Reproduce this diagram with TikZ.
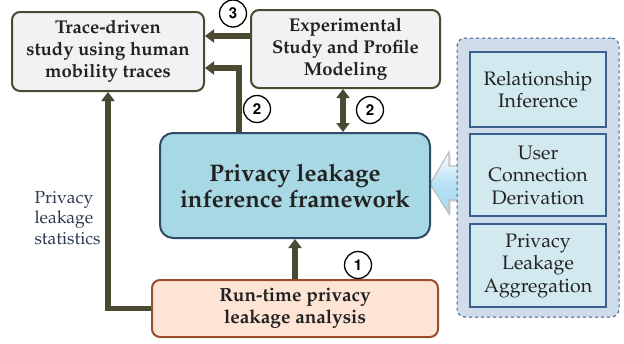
\documentclass[tikz,border=0pt]{standalone}
\usepackage[T1]{fontenc}
\usepackage{mathpazo}
\usepackage{tikz}
\usetikzlibrary{arrows.meta,shadows}
\definecolor{olivedark}{HTML}{4A4A32}
\definecolor{boxgray}{HTML}{F1F2F4}
\definecolor{frameblue}{HTML}{A8D8E3}
\definecolor{framedraw}{HTML}{2E4A68}
\definecolor{runfill}{HTML}{FDE4D4}
\definecolor{rundraw}{HTML}{9A4E2E}
\definecolor{panelfill}{HTML}{CFDCE9}
\definecolor{paneldraw}{HTML}{3E5A82}
\definecolor{subfill}{HTML}{D2E9F0}
\definecolor{subdraw}{HTML}{3B5F8E}
\definecolor{txtdark}{HTML}{222222}
\definecolor{lbltxt}{HTML}{2E3A52}
\definecolor{arrowblue}{HTML}{A6DAF2}
\tikzset{
  stagebox/.style={draw=olivedark, line width=2pt, fill=boxgray, rounded corners=8pt,
    align=center, text=txtdark, font=\fontsize{18.5}{22}\selectfont\bfseries},
  conn/.style={draw=olivedark, line width=5.5pt, -{Triangle[length=9pt,width=13pt]}},
  subbox/.style={draw=subdraw, line width=1.6pt, fill=subfill, align=center,
    minimum width=136pt, text=txtdark, font=\fontsize{19.5}{22.5}\selectfont},
  stepnum/.style={circle, draw=black, line width=1.3pt, inner sep=0pt, minimum width=27pt,
    minimum height=27pt, font=\fontfamily{phv}\bfseries\fontsize{15}{15}\selectfont}
}
\begin{document}
\begin{tikzpicture}[x=1pt, y=-1pt]
  \useasboundingbox (0,0) rectangle (624,343);
  % hollow arrow from the side panel
  \shade [top color=white, bottom color=arrowblue, middle color=arrowblue!80, draw=gray!50, line width=1.2pt,
    drop shadow={opacity=0.3, shadow xshift=1.5pt, shadow yshift=-1.5pt}]
    (430,184) -- (449,152) -- (449,166) -- (460,166) -- (460,200) -- (449,200) -- (449,214) -- cycle;
  % side panel
  \node [draw=paneldraw, dashed, line width=1pt, fill=panelfill, rounded corners=8pt,
    minimum width=162pt, minimum height=279pt] (panel) at (538,177.5) {};
  \node [subbox, minimum height=75pt] (relinf) at (538,89.5) {Relationship\\Inference};
  \node [subbox, minimum height=82pt] (conder) at (538,175) {User\\Connection\\Derivation};
  \node [subbox, minimum height=83pt] (leakagg) at (538,265.5) {Privacy\\Leakage\\Aggregation};
  % main boxes
  \node [stagebox, minimum width=192pt, minimum height=79pt] (trace) at (108,51.5)
    {Trace-driven\\study using human\\mobility traces};
  \node [stagebox, minimum width=189pt, minimum height=78pt] (exper) at (345.5,49)
    {Experimental\\Study and Profile\\Modeling};
  \node [stagebox, draw=framedraw, fill=frameblue, rounded corners=13pt, minimum width=270pt,
    minimum height=105pt, font=\fontsize{24}{26}\selectfont\bfseries] (frame) at (295,185.5)
    {Privacy leakage\\inference framework};
  \node [stagebox, draw=rundraw, fill=runfill, minimum width=286pt, minimum height=57pt,
    font=\fontsize{19}{22}\selectfont\bfseries] (runtime) at (295,308.5)
    {Run-time privacy\\leakage analysis};
  % connectors
  \draw [conn] (runtime.west) -| (trace.south);
  \draw [conn] (runtime.north) -- (frame.south);
  \draw [conn] ([xshift=-56pt]frame.north) |- ([yshift=-16.5pt]trace.east);
  \draw [conn] ([yshift=13pt]exper.west) -- ([yshift=15.5pt]trace.east);
  \draw [conn, {Triangle[length=9pt,width=13pt]}-{Triangle[length=9pt,width=13pt]}]
    ([xshift=-2.5pt]exper.south) -- ([xshift=48pt]frame.north);
  % labels
  \node [stepnum] (stepthree) at (233,13.5) {3};
  \node [stepnum] (steptwoa) at (257,109) {2};
  \node [stepnum] (steptwob) at (370,110) {2};
  \node [stepnum] (stepone) at (358,265) {1};
  \node [align=left, text=lbltxt, font=\fontsize{17.5}{20.5}\selectfont, anchor=west]
    (statlbl) at (31,218) {Privacy\\leakage\\statistics};
\end{tikzpicture}
\end{document}
